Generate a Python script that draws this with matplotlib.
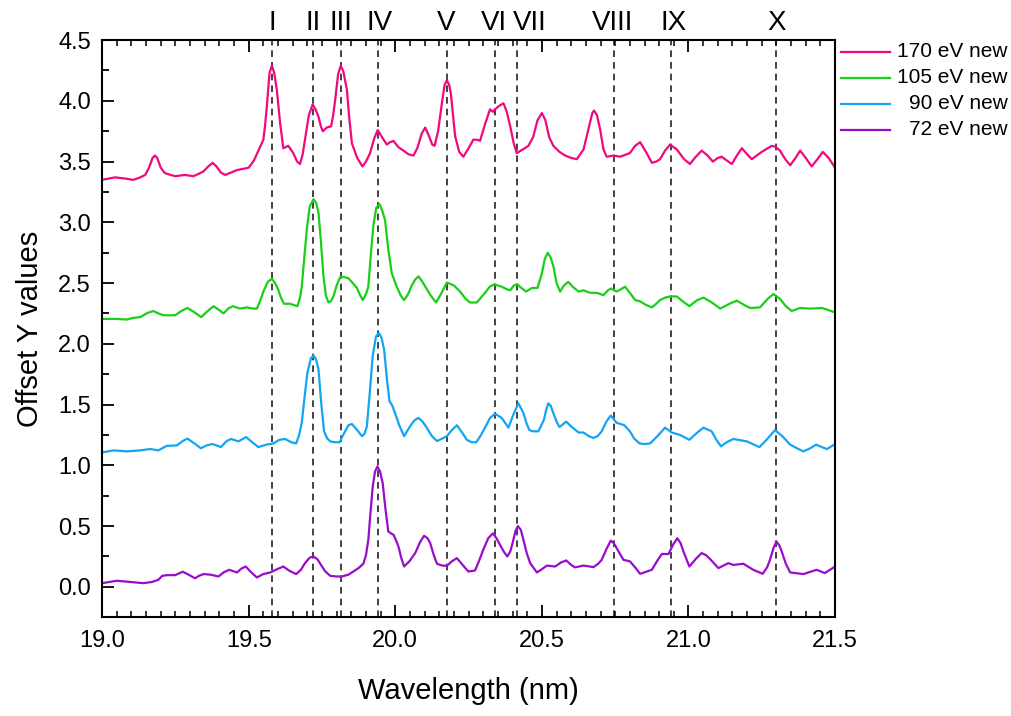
import matplotlib
matplotlib.use("Agg")
import matplotlib.pyplot as plt
from matplotlib.lines import Line2D
from matplotlib.ticker import MultipleLocator
import matplotlib.transforms as mtransforms

plt.rcParams['font.family'] = ['Liberation Sans', 'DejaVu Sans']

# 170 eV (offset)
x_170 = [19.000, 19.044, 19.080, 19.107, 19.130, 19.147, 19.160, 19.172, 19.180, 19.188,
         19.200, 19.212, 19.220, 19.249, 19.283, 19.311, 19.330, 19.346, 19.362, 19.377,
         19.390, 19.405, 19.420, 19.440, 19.460, 19.500, 19.518, 19.533, 19.550, 19.556,
         19.562, 19.571, 19.579, 19.587, 19.596, 19.607, 19.618, 19.627, 19.635, 19.652,
         19.665, 19.675, 19.684, 19.692, 19.705, 19.718, 19.728, 19.738, 19.746, 19.753,
         19.766, 19.781, 19.788, 19.795, 19.805, 19.814, 19.823, 19.835, 19.843, 19.852,
         19.870, 19.888, 19.900, 19.914, 19.928, 19.940, 19.955, 19.971, 19.982, 19.994,
         20.010, 20.028, 20.045, 20.062, 20.075, 20.090, 20.102, 20.115, 20.126, 20.134,
         20.146, 20.160, 20.168, 20.176, 20.184, 20.190, 20.197, 20.204, 20.218, 20.232,
         20.250, 20.266, 20.280, 20.289, 20.305, 20.323, 20.333, 20.340, 20.355, 20.369,
         20.380, 20.392, 20.404, 20.414, 20.435, 20.454, 20.470, 20.485, 20.500, 20.512,
         20.525, 20.539, 20.560, 20.579, 20.600, 20.619, 20.642, 20.660, 20.672, 20.678,
         20.688, 20.699, 20.710, 20.721, 20.745, 20.767, 20.800, 20.818, 20.835, 20.855,
         20.875, 20.890, 20.903, 20.920, 20.937, 20.960, 20.985, 21.005, 21.025, 21.045,
         21.065, 21.083, 21.100, 21.113, 21.130, 21.148, 21.165, 21.182, 21.200, 21.216,
         21.250, 21.284, 21.298, 21.312, 21.330, 21.347, 21.365, 21.381, 21.400, 21.420,
         21.440, 21.458, 21.478, 21.497]
y_170 = [3.35, 3.37, 3.36, 3.35, 3.37, 3.39, 3.45, 3.53, 3.55, 3.53,
         3.45, 3.41, 3.40, 3.38, 3.39, 3.38, 3.40, 3.42, 3.46, 3.49,
         3.46, 3.41, 3.39, 3.41, 3.43, 3.45, 3.51, 3.59, 3.68, 3.80,
         3.96, 4.23, 4.29, 4.23, 4.09, 3.82, 3.61, 3.62, 3.63, 3.57,
         3.50, 3.48, 3.56, 3.68, 3.88, 3.97, 3.93, 3.87, 3.79, 3.75,
         3.78, 3.79, 3.88, 4.01, 4.22, 4.29, 4.24, 4.09, 3.86, 3.65,
         3.53, 3.46, 3.50, 3.57, 3.69, 3.76, 3.70, 3.64, 3.66, 3.67,
         3.62, 3.59, 3.56, 3.55, 3.61, 3.73, 3.78, 3.71, 3.64, 3.63,
         3.75, 4.00, 4.13, 4.17, 4.13, 4.05, 3.88, 3.71, 3.58, 3.54,
         3.61, 3.68, 3.68, 3.67, 3.80, 3.93, 3.91, 3.93, 3.96, 3.98,
         3.91, 3.79, 3.65, 3.57, 3.60, 3.63, 3.70, 3.84, 3.90, 3.84,
         3.70, 3.63, 3.58, 3.55, 3.53, 3.52, 3.60, 3.78, 3.90, 3.92,
         3.88, 3.76, 3.60, 3.54, 3.55, 3.54, 3.57, 3.63, 3.66, 3.58,
         3.49, 3.50, 3.52, 3.59, 3.64, 3.60, 3.52, 3.48, 3.54, 3.59,
         3.55, 3.50, 3.53, 3.54, 3.51, 3.48, 3.55, 3.61, 3.56, 3.52,
         3.58, 3.63, 3.62, 3.59, 3.52, 3.47, 3.53, 3.59, 3.53, 3.46,
         3.52, 3.58, 3.53, 3.46]

# 105 eV (offset)
x_105 = [19.000, 19.050, 19.084, 19.110, 19.130, 19.155, 19.175, 19.192, 19.209, 19.249,
         19.270, 19.291, 19.315, 19.338, 19.360, 19.380, 19.398, 19.414, 19.430, 19.446,
         19.470, 19.494, 19.515, 19.528, 19.540, 19.550, 19.565, 19.579, 19.590, 19.600,
         19.610, 19.620, 19.640, 19.666, 19.675, 19.681, 19.690, 19.698, 19.708, 19.721,
         19.730, 19.738, 19.746, 19.755, 19.763, 19.772, 19.780, 19.789, 19.800, 19.812,
         19.825, 19.840, 19.855, 19.869, 19.880, 19.889, 19.900, 19.908, 19.916, 19.925,
         19.935, 19.946, 19.955, 19.965, 19.975, 19.988, 20.005, 20.018, 20.030, 20.044,
         20.056, 20.068, 20.079, 20.090, 20.100, 20.120, 20.139, 20.158, 20.176, 20.200,
         20.221, 20.240, 20.255, 20.278, 20.306, 20.322, 20.337, 20.363, 20.380, 20.392,
         20.404, 20.416, 20.430, 20.446, 20.466, 20.485, 20.500, 20.510, 20.520, 20.530,
         20.539, 20.550, 20.562, 20.575, 20.590, 20.605, 20.625, 20.642, 20.664, 20.687,
         20.710, 20.725, 20.735, 20.755, 20.770, 20.784, 20.800, 20.818, 20.835, 20.855,
         20.875, 20.890, 20.903, 20.920, 20.937, 20.960, 20.980, 21.003, 21.030, 21.051,
         21.080, 21.108, 21.140, 21.165, 21.190, 21.210, 21.244, 21.270, 21.290, 21.312,
         21.332, 21.352, 21.380, 21.415, 21.455, 21.475, 21.497]
y_105 = [2.205, 2.205, 2.20, 2.215, 2.22, 2.255, 2.27, 2.25, 2.235, 2.235,
         2.27, 2.295, 2.26, 2.22, 2.27, 2.31, 2.28, 2.25, 2.29, 2.31,
         2.29, 2.30, 2.29, 2.29, 2.36, 2.43, 2.51, 2.535, 2.50, 2.45,
         2.38, 2.33, 2.33, 2.31, 2.38, 2.47, 2.72, 2.94, 3.13, 3.19,
         3.16, 3.08, 2.85, 2.555, 2.40, 2.34, 2.35, 2.39, 2.48, 2.55,
         2.55, 2.54, 2.50, 2.46, 2.40, 2.36, 2.41, 2.47, 2.72, 2.97,
         3.12, 3.15, 3.10, 3.02, 2.80, 2.58, 2.47, 2.40, 2.36, 2.41,
         2.48, 2.53, 2.555, 2.52, 2.48, 2.40, 2.34, 2.42, 2.505, 2.48,
         2.43, 2.37, 2.34, 2.34, 2.42, 2.47, 2.49, 2.47, 2.45, 2.44,
         2.48, 2.49, 2.46, 2.43, 2.46, 2.46, 2.58, 2.70, 2.75, 2.71,
         2.64, 2.50, 2.43, 2.48, 2.51, 2.47, 2.43, 2.44, 2.42, 2.42,
         2.40, 2.44, 2.455, 2.43, 2.45, 2.47, 2.42, 2.36, 2.35, 2.32,
         2.30, 2.33, 2.36, 2.38, 2.39, 2.39, 2.35, 2.31, 2.36, 2.38,
         2.34, 2.29, 2.33, 2.355, 2.32, 2.295, 2.30, 2.37, 2.41, 2.37,
         2.31, 2.27, 2.295, 2.29, 2.295, 2.28, 2.26]

# 90 eV (offset)
x_90 = [19.000, 19.039, 19.084, 19.130, 19.164, 19.192, 19.220, 19.255, 19.275, 19.291,
        19.315, 19.337, 19.357, 19.377, 19.405, 19.425, 19.440, 19.465, 19.491, 19.512,
        19.533, 19.560, 19.584, 19.605, 19.624, 19.645, 19.662, 19.672, 19.681, 19.690,
        19.700, 19.712, 19.721, 19.730, 19.738, 19.747, 19.757, 19.768, 19.778, 19.795,
        19.810, 19.820, 19.829, 19.840, 19.852, 19.870, 19.886, 19.895, 19.903, 19.913,
        19.923, 19.934, 19.944, 19.953, 19.962, 19.971, 19.980, 19.990, 19.999, 20.015,
        20.030, 20.050, 20.065, 20.079, 20.093, 20.107, 20.125, 20.142, 20.160, 20.176,
        20.193, 20.210, 20.228, 20.244, 20.260, 20.276, 20.290, 20.306, 20.323, 20.340,
        20.363, 20.386, 20.403, 20.420, 20.437, 20.447, 20.457, 20.470, 20.488, 20.507,
        20.515, 20.522, 20.530, 20.539, 20.550, 20.560, 20.583, 20.600, 20.625, 20.642,
        20.660, 20.676, 20.690, 20.704, 20.720, 20.735, 20.755, 20.781, 20.800, 20.815,
        20.833, 20.850, 20.869, 20.894, 20.920, 20.943, 20.971, 21.003, 21.030, 21.051,
        21.079, 21.095, 21.111, 21.130, 21.153, 21.199, 21.242, 21.270, 21.295, 21.320,
        21.347, 21.370, 21.392, 21.415, 21.435, 21.455, 21.472, 21.497]
y_90 = [1.106, 1.123, 1.115, 1.123, 1.134, 1.123, 1.16, 1.164, 1.20, 1.22,
        1.18, 1.14, 1.165, 1.175, 1.15, 1.20, 1.217, 1.197, 1.233, 1.19,
        1.15, 1.17, 1.18, 1.21, 1.217, 1.19, 1.18, 1.25, 1.35, 1.55,
        1.76, 1.88, 1.905, 1.87, 1.79, 1.52, 1.28, 1.22, 1.197, 1.19,
        1.19, 1.24, 1.28, 1.33, 1.34, 1.29, 1.24, 1.26, 1.32, 1.60,
        1.90, 2.06, 2.09, 2.05, 1.95, 1.72, 1.53, 1.49, 1.43, 1.32,
        1.24, 1.32, 1.37, 1.39, 1.36, 1.31, 1.24, 1.20, 1.22, 1.24,
        1.29, 1.33, 1.27, 1.21, 1.19, 1.19, 1.24, 1.31, 1.39, 1.425,
        1.39, 1.31, 1.42, 1.51, 1.43, 1.35, 1.29, 1.28, 1.28, 1.375,
        1.46, 1.51, 1.49, 1.43, 1.36, 1.315, 1.36, 1.32, 1.27, 1.27,
        1.24, 1.225, 1.24, 1.28, 1.36, 1.41, 1.35, 1.33, 1.28, 1.22,
        1.18, 1.175, 1.18, 1.24, 1.31, 1.27, 1.25, 1.21, 1.27, 1.31,
        1.28, 1.21, 1.156, 1.19, 1.217, 1.197, 1.15, 1.22, 1.29, 1.24,
        1.17, 1.14, 1.115, 1.14, 1.17, 1.15, 1.134, 1.17]

# 72 eV
x_72 = [19.000, 19.050, 19.095, 19.141, 19.170, 19.192, 19.205, 19.220, 19.249, 19.262,
        19.275, 19.295, 19.317, 19.330, 19.346, 19.370, 19.397, 19.415, 19.434, 19.460,
        19.475, 19.490, 19.508, 19.528, 19.550, 19.573, 19.597, 19.618, 19.640, 19.662,
        19.678, 19.692, 19.708, 19.721, 19.735, 19.744, 19.760, 19.778, 19.800, 19.818,
        19.840, 19.857, 19.875, 19.891, 19.900, 19.908, 19.915, 19.923, 19.931, 19.939,
        19.948, 19.957, 19.966, 19.976, 19.985, 19.994, 20.003, 20.011, 20.020, 20.030,
        20.048, 20.068, 20.085, 20.098, 20.110, 20.119, 20.130, 20.142, 20.160, 20.176,
        20.193, 20.210, 20.230, 20.249, 20.272, 20.285, 20.300, 20.317, 20.333, 20.345,
        20.357, 20.370, 20.382, 20.392, 20.400, 20.410, 20.418, 20.428, 20.437, 20.448,
        20.460, 20.483, 20.500, 20.517, 20.545, 20.565, 20.583, 20.600, 20.613, 20.642,
        20.676, 20.692, 20.704, 20.720, 20.735, 20.745, 20.755, 20.778, 20.800, 20.818,
        20.835, 20.875, 20.895, 20.909, 20.932, 20.948, 20.962, 20.973, 20.983, 21.003,
        21.025, 21.045, 21.060, 21.074, 21.102, 21.136, 21.153, 21.187, 21.221, 21.253,
        21.268, 21.278, 21.290, 21.300, 21.310, 21.318, 21.332, 21.347, 21.392, 21.437,
        21.465, 21.500]
y_72 = [0.03, 0.05, 0.04, 0.03, 0.04, 0.058, 0.09, 0.096, 0.096, 0.11,
        0.124, 0.10, 0.07, 0.09, 0.105, 0.10, 0.085, 0.12, 0.14, 0.118,
        0.15, 0.167, 0.12, 0.077, 0.105, 0.118, 0.145, 0.167, 0.13, 0.105,
        0.14, 0.195, 0.24, 0.25, 0.225, 0.19, 0.13, 0.09, 0.085, 0.085,
        0.10, 0.126, 0.155, 0.19, 0.26, 0.387, 0.60, 0.826, 0.95, 0.99,
        0.95, 0.854, 0.65, 0.456, 0.44, 0.428, 0.38, 0.33, 0.24, 0.167,
        0.21, 0.278, 0.37, 0.42, 0.40, 0.36, 0.27, 0.19, 0.175, 0.173,
        0.21, 0.236, 0.18, 0.126, 0.134, 0.21, 0.305, 0.40, 0.44, 0.40,
        0.346, 0.29, 0.25, 0.29, 0.36, 0.46, 0.50, 0.47, 0.387, 0.28,
        0.195, 0.118, 0.145, 0.175, 0.167, 0.20, 0.217, 0.18, 0.16, 0.175,
        0.162, 0.19, 0.222, 0.31, 0.38, 0.36, 0.318, 0.222, 0.21, 0.16,
        0.107, 0.14, 0.22, 0.27, 0.27, 0.35, 0.40, 0.36, 0.29, 0.167,
        0.23, 0.278, 0.26, 0.228, 0.154, 0.195, 0.18, 0.19, 0.14, 0.107,
        0.16, 0.222, 0.32, 0.373, 0.34, 0.29, 0.19, 0.118, 0.105, 0.14,
        0.113, 0.167]

line_pos = [19.58, 19.72, 19.815, 19.94, 20.175, 20.34, 20.415, 20.745, 20.94, 21.30]
label_pos = [19.58, 19.72, 19.815, 19.947, 20.175, 20.335, 20.46, 20.74, 20.948, 21.30]
line_names = ['I', 'II', 'III', 'IV', 'V', 'VI', 'VII', 'VIII', 'IX', 'X']

series = [
    (x_170, y_170, '#F2087E', '170 eV new'),
    (x_105, y_105, '#18D018', '105 eV new'),
    (x_90, y_90, '#12A6F2', '90 eV new'),
    (x_72, y_72, '#9A0CCC', '72 eV new'),
]

fig = plt.figure(figsize=(10.11, 7.16), dpi=100)
ax = fig.add_axes([0.101, 0.138, 0.725, 0.806])

for xs, ys, c, lab in series:
    ax.plot(xs, ys, color=c, lw=1.6, label=lab, solid_joinstyle='round')

trans = mtransforms.blended_transform_factory(ax.transData, ax.transAxes)
for xp in line_pos:
    ax.axvline(xp, color='#222222', ls=(0, (4, 3)), lw=1.2, zorder=1)
for xp, name in zip(label_pos, line_names):
    ax.text(xp, 1.03, name, transform=trans, ha='center', va='center', fontsize=20)

ax.set_xlim(19.0, 21.5)
ax.set_ylim(-0.25, 4.5)
ax.xaxis.set_major_locator(MultipleLocator(0.5))
ax.xaxis.set_minor_locator(MultipleLocator(0.05))
ax.yaxis.set_major_locator(MultipleLocator(0.5))
ax.yaxis.set_minor_locator(MultipleLocator(0.25))
ax.xaxis.set_major_formatter(plt.FormatStrFormatter('%.1f'))
ax.yaxis.set_major_formatter(plt.FormatStrFormatter('%.1f'))
ax.tick_params(axis='x', which='major', direction='in', top=True, length=8.5, width=1.3, labelsize=17, pad=9)
ax.tick_params(axis='x', which='minor', direction='in', top=True, length=4, width=1.1)
ax.tick_params(axis='y', which='major', direction='in', right=False, length=8.5, width=1.3, labelsize=17, pad=8)
ax.tick_params(axis='y', which='minor', direction='in', right=False, length=5, width=1.3)
for s in ax.spines.values():
    s.set_linewidth(1.5)

ax.set_xlabel('Wavelength (nm)', fontsize=21, labelpad=18)
ax.set_ylabel('Offset Y values', fontsize=21, labelpad=10)

# legend drawn outside to the right, text right-aligned
for i, (xs, ys, c, lab) in enumerate(series):
    yf = 0.928 - i * 0.0365
    fig.add_artist(Line2D([0.832, 0.880], [yf, yf], color=c, lw=1.6, transform=fig.transFigure))
    fig.text(0.997, yf, lab, ha='right', va='center', fontsize=15)

fig.savefig('out.png', dpi=100)
